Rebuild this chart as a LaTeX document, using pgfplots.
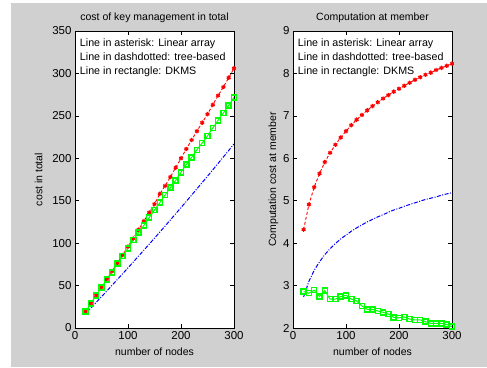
\documentclass[border=0pt]{standalone}
\usepackage{pgfplots}
\pgfplotsset{compat=1.18}
\usepackage{fontspec}
\setmainfont{Liberation Sans}
\definecolor{figgray}{RGB}{208,208,208}
\definecolor{mred}{RGB}{255,0,0}
\definecolor{mgreen}{RGB}{0,255,0}
\definecolor{mblue}{RGB}{0,0,255}
\pgfplotsset{
  mstyle/.style={
    scale only axis, width=159pt, height=297pt,
    axis background/.style={fill=white},
    axis line style={black, line width=0.6pt},
    tick style={black, line width=0.6pt},
    tick align=inside, xtick pos=both, ytick pos=both,
    major tick length=4pt,
    /pgf/number format/assume math mode=true,
    tick label style={font=\fontsize{11.5}{12}\selectfont},
    label style={font=\fontsize{10.5}{12}\selectfont},
    title style={font=\fontsize{10.5}{12}\selectfont, yshift=-1pt},
    xmin=0, xmax=300, xtick={0,100,200,300},
    xlabel={number of nodes},
    xlabel style={yshift=-1pt},
    clip=true,
  },
  redl/.style={mred, line width=0.9pt, dash pattern=on 3pt off 2pt, mark=asterisk, mark size=2.2pt, mark options={solid, line width=1.2pt}},
  greenl/.style={mgreen, line width=1pt, mark=square, mark size=2.5pt, mark options={solid, line width=1.5pt, fill=white}},
  bluel/.style={mblue, line width=1pt, dash pattern=on 4pt off 1.5pt on 1pt off 1.5pt},
}
\begin{document}
\begin{tikzpicture}
\fill[white] (0,0) rectangle (487pt,367pt);
\fill[figgray] (11pt,0) rectangle (487pt,364pt);
\begin{axis}[mstyle, at={(75pt,39pt)}, anchor=south west,
  ymin=0, ymax=350, ytick={0,50,100,150,200,250,300,350},
  title={cost of key management in total},
  ylabel={cost in total}, ylabel style={yshift=3pt}]
\addplot[bluel] coordinates {(20,17) (30,23.6) (40,30.2) (50,36.9) (60,43.6) (70,50.4) (80,57.2) (90,64.0) (100,70.9) (110,77.8) (120,84.8) (130,91.8) (140,98.8) (150,105.9) (160,113.0) (170,120.2) (180,127.4) (190,134.6) (200,141.9) (210,149.2) (220,156.6) (230,164.0) (240,171.4) (250,178.9) (260,186.4) (270,194.0) (280,201.6) (290,209.2) (300,216.9)};
\addplot[redl] coordinates {(20,19.5) (30,29) (40,38.5) (50,48) (60,57.5) (70,67) (80,76.5) (90,86) (100,96) (110,105.5) (120,116) (130,126) (140,136) (150,146) (160,158) (170,167.5) (180,178) (190,189) (200,200) (210,211) (220,221.5) (230,232) (240,242) (250,252) (260,263) (270,274) (280,284) (290,295) (300,306)};
\addplot[greenl] coordinates {(20,19.2) (30,29.1) (40,38.5) (50,47.5) (60,57.3) (70,65.6) (80,76.2) (90,84.8) (100,93.9) (110,103.7) (120,112.3) (130,121) (140,130) (150,139) (160,147.7) (170,156.7) (180,165.3) (190,174) (200,183.5) (210,192.5) (220,201) (230,210) (240,218) (250,226.3) (260,235.7) (270,244.7) (280,253.4) (290,262.4) (300,271.8)};
\node[anchor=north west, align=left, inner sep=0pt, font=\fontsize{10.7}{14}\selectfont] at (rel axis cs:0.03,0.975) {Line in asterisk: Linear array\\Line in dashdotted: tree-based\\Line in rectangle: DKMS};
\end{axis}
\begin{axis}[mstyle, at={(293pt,39pt)}, anchor=south west,
  ymin=2, ymax=9, ytick={2,3,4,5,6,7,8,9},
  title={Computation at member},
  ylabel={Computation cost at member}, ylabel style={yshift=-2pt}]
\addplot[bluel] coordinates {(20,2.73) (30,3.10) (40,3.36) (50,3.56) (60,3.73) (70,3.87) (80,3.99) (90,4.10) (100,4.19) (110,4.28) (120,4.36) (130,4.43) (140,4.50) (150,4.56) (160,4.62) (170,4.67) (180,4.73) (190,4.78) (200,4.82) (210,4.87) (220,4.91) (230,4.95) (240,4.99) (250,5.03) (260,5.06) (270,5.09) (280,5.13) (290,5.16) (300,5.19)};
\addplot[redl] coordinates {(20,4.32) (30,4.91) (40,5.32) (50,5.64) (60,5.91) (70,6.13) (80,6.32) (90,6.49) (100,6.64) (110,6.78) (120,6.91) (130,7.02) (140,7.13) (150,7.23) (160,7.32) (170,7.41) (180,7.49) (190,7.57) (200,7.64) (210,7.71) (220,7.78) (230,7.85) (240,7.91) (250,7.97) (260,8.02) (270,8.08) (280,8.13) (290,8.18) (300,8.23)};
\addplot[greenl] coordinates {(20,2.86) (30,2.82) (40,2.89) (50,2.74) (60,2.88) (70,2.68) (80,2.68) (90,2.74) (100,2.77) (110,2.68) (120,2.64) (130,2.52) (140,2.44) (150,2.44) (160,2.40) (170,2.37) (180,2.33) (190,2.25) (200,2.24) (210,2.26) (220,2.21) (230,2.19) (240,2.19) (250,2.15) (260,2.11) (270,2.11) (280,2.11) (290,2.08) (300,2.03)};
\node[anchor=north west, align=left, inner sep=0pt, font=\fontsize{10.7}{14}\selectfont] at (rel axis cs:0.03,0.975) {Line in asterisk: Linear array\\Line in dashdotted: tree-based\\Line in rectangle: DKMS};
\end{axis}
\pgfresetboundingbox
\path (0,0) rectangle (487pt,367pt);
\end{tikzpicture}
\end{document}
